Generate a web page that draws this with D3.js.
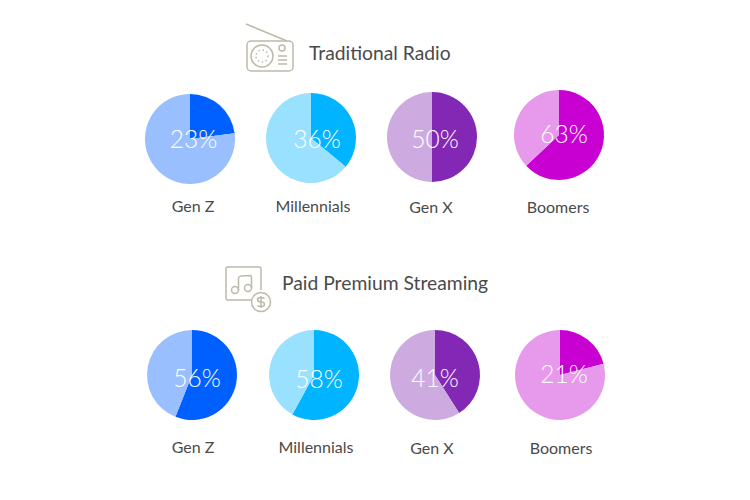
<!DOCTYPE html>
<html>
<head>
<meta charset="utf-8">
<script src="https://cdn.jsdelivr.net/npm/d3@7"></script>
<style>
  html, body { margin: 0; background: #fff; }
  text { font-family: Lato, "Open Sans", sans-serif; }
</style>
</head>
<body>
<svg id="chart" width="750" height="500"></svg>
<script>
// Data
var titles = ["Traditional Radio", "Paid Premium Streaming"];
var generations = ["Gen Z", "Millennials", "Gen X", "Boomers"];
var radioValues = [23, 36, 50, 63];
var streamingValues = [56, 58, 41, 21];

// Colors per generation
var darkColors = ["#0060ff", "#00b4ff", "#8228b4", "#c800d2"];
var lightColors = ["#99bfff", "#99e1ff", "#cdabe1", "#e799ec"];
var iconColor = "#bdbaa8";
var textColor = "#4a4a4a";

// Layout, the pies are hand placed in the original
var radioX = [190, 311, 432, 559];
var radioY = [139, 138, 137, 135];
var radioTextX = [193.5, 317, 435, 564];
var radioTextY = [148, 148, 148, 143];
var radioLabelX = [193, 313, 431, 558];
var radioLabelY = [211.5, 211.5, 212.5, 212.5];
var streamingX = [192, 314, 435, 560];
var streamingY = [375, 375, 375, 375];
var streamingTextX = [197, 319, 435, 564];
var streamingTextY = [387, 388, 387, 383];
var streamingLabelX = [193, 316, 432, 561];
var streamingLabelY = [452.5, 452.5, 453.5, 453.5];
var radius = 45;

var svg = d3.select("#chart");

var pie = d3.pie().sort(null);
var arc = d3.arc().innerRadius(0).outerRadius(radius);

function drawRow(values, xs, ys, textXs, textYs, labelXs, labelYs) {
  values.forEach(function (value, i) {
    var g = svg
      .append("g")
      .attr("transform", "translate(" + xs[i] + "," + ys[i] + ")");

    g.selectAll("path")
      .data(pie([value, 100 - value]))
      .enter()
      .append("path")
      .attr("d", arc)
      .attr("fill", function (d, j) {
        return j === 0 ? darkColors[i] : lightColors[i];
      });

    svg
      .append("text")
      .attr("x", textXs[i])
      .attr("y", textYs[i])
      .attr("text-anchor", "middle")
      .attr("font-size", 24.5)
      .attr("font-weight", 300)
      .attr("fill", "#fff")
      .text(value + "%");

    svg
      .append("text")
      .attr("x", labelXs[i])
      .attr("y", labelYs[i])
      .attr("text-anchor", "middle")
      .attr("font-size", 16)
      .attr("fill", textColor)
      .text(generations[i]);
  });
}

drawRow(radioValues, radioX, radioY, radioTextX, radioTextY, radioLabelX, radioLabelY);
drawRow(streamingValues, streamingX, streamingY, streamingTextX, streamingTextY, streamingLabelX, streamingLabelY);

// Titles
svg
  .append("text")
  .attr("x", 309)
  .attr("y", 60)
  .attr("font-size", 19.3)
  .attr("fill", textColor)
  .text(titles[0]);

svg
  .append("text")
  .attr("x", 282)
  .attr("y", 290)
  .attr("font-size", 19.3)
  .attr("fill", textColor)
  .text(titles[1]);

// Radio icon
var radio = svg
  .append("g")
  .attr("fill", "none")
  .attr("stroke", iconColor)
  .attr("stroke-width", 1.5);

radio.append("line").attr("x1", 246).attr("y1", 24).attr("x2", 287).attr("y2", 41);
radio.append("rect").attr("x", 247).attr("y", 41).attr("width", 46).attr("height", 30).attr("rx", 4);
radio.append("circle").attr("cx", 262).attr("cy", 56).attr("r", 11);
radio.append("circle").attr("cx", 262).attr("cy", 56).attr("r", 6).attr("stroke-dasharray", "1.5 2.5");
radio.append("circle").attr("cx", 282).attr("cy", 48).attr("r", 3);
[56, 60, 64].forEach(function (y) {
  radio.append("line").attr("x1", 278).attr("y1", y).attr("x2", 287).attr("y2", y);
});

// Music + dollar icon
var music = svg
  .append("g")
  .attr("fill", "none")
  .attr("stroke", iconColor)
  .attr("stroke-width", 1.5);

music.append("path").attr("d", "M252 300H228a2 2 0 0 1-2-2V269a2 2 0 0 1 2-2H259a2 2 0 0 1 2 2V290");
music.append("circle").attr("cx", 235).attr("cy", 290).attr("r", 3.5);
music.append("circle").attr("cx", 248).attr("cy", 288).attr("r", 3.5);
music.append("path").attr("d", "M238.5 290V278Q239 276 241 276L250 275.500Q251.500 275.500 251.500 277V288");
music.append("circle").attr("cx", 261).attr("cy", 302).attr("r", 9.500);
music.append("path").attr("d", "M264.500 298.500Q263.500 297.500 261 297.500Q257.500 297.500 257.500 299.800Q257.500 302 261 302Q264.500 302 264.500 304.200Q264.500 306.500 261 306.500Q258.500 306.500 257.500 305.500M261 296V308");
</script>
</body>
</html>
